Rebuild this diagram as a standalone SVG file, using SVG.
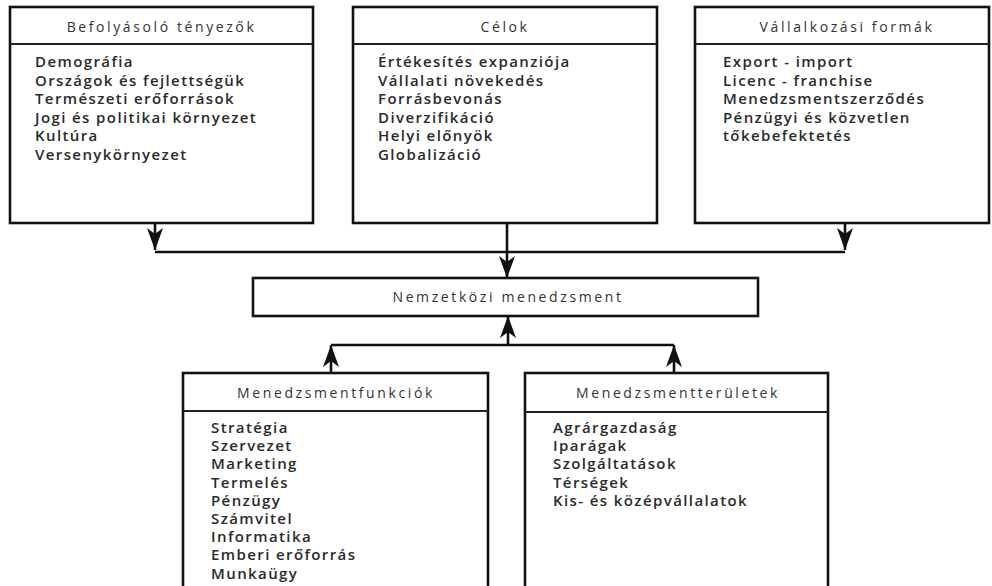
<svg xmlns="http://www.w3.org/2000/svg" width="992" height="586" viewBox="0 0 992 586">
<defs>
<style>
.box{fill:#fff;stroke:#111;stroke-width:2.6}
.div{stroke:#222;stroke-width:2.2}
.title{font-family:"Open Sans","Liberation Sans",sans-serif;font-size:14px;fill:#333;text-anchor:middle;letter-spacing:2.6px}
.body{font-family:"Open Sans","Liberation Sans",sans-serif;font-size:15px;fill:#2a2a2a;font-weight:600;letter-spacing:1.4px}
.con{fill:none;stroke:#111;stroke-width:2.6}
</style>
<marker id="ah" viewBox="0 0 22 16" refX="22" refY="8" markerWidth="22" markerHeight="16" markerUnits="userSpaceOnUse" orient="auto">
<path d="M0,0 L22,8 L0,16 L6,8 z" fill="#111"/>
</marker>
</defs>
<rect width="992" height="586" fill="#fff"/>
<g id="connectors">
<path class="con" d="M155,223 V250" marker-end="url(#ah)"/>
<path class="con" d="M845,223 V250" marker-end="url(#ah)"/>
<path class="con" d="M155,252 H845"/>
<path class="con" d="M507,223 V278" marker-end="url(#ah)"/>
<path class="con" d="M508,345 V316" marker-end="url(#ah)"/>
<path class="con" d="M331,345 H674"/>
<path class="con" d="M331,373 V345" marker-end="url(#ah)"/>
<path class="con" d="M674,373 V345" marker-end="url(#ah)"/>
</g>
<g id="befolyasolo">
<rect class="box" x="10" y="7" width="303" height="216"/>
<line class="div" x1="10" y1="44" x2="313" y2="44"/>
<text class="title" x="161.5" y="31.5">Befolyásoló tényezők</text>
<text class="body"><tspan x="35" y="67">Demográfia</tspan><tspan x="35" y="85.5">Országok és fejlettségük</tspan><tspan x="35" y="104">Természeti erőforrások</tspan><tspan x="35" y="122.5">Jogi és politikai környezet</tspan><tspan x="35" y="141">Kultúra</tspan><tspan x="35" y="159.5">Versenykörnyezet</tspan></text>
</g>
<g id="celok">
<rect class="box" x="353" y="7" width="304" height="216"/>
<line class="div" x1="353" y1="44" x2="657" y2="44"/>
<text class="title" x="505" y="31.5">Célok</text>
<text class="body"><tspan x="378" y="67">Értékesítés expanziója</tspan><tspan x="378" y="85.5">Vállalati növekedés</tspan><tspan x="378" y="104">Forrásbevonás</tspan><tspan x="378" y="122.5">Diverzifikáció</tspan><tspan x="378" y="141">Helyi előnyök</tspan><tspan x="378" y="159.5">Globalizáció</tspan></text>
</g>
<g id="vallalkozasi">
<rect class="box" x="695" y="7" width="294" height="216"/>
<line class="div" x1="695" y1="44" x2="989" y2="44"/>
<text class="title" x="847" y="31.5">Vállalkozási formák</text>
<text class="body"><tspan x="723" y="67">Export - import</tspan><tspan x="723" y="85.5">Licenc - franchise</tspan><tspan x="723" y="104">Menedzsmentszerződés</tspan><tspan x="723" y="122.5">Pénzügyi és közvetlen</tspan><tspan x="723" y="141">tőkebefektetés</tspan></text>
</g>
<g id="nemzetkozi">
<rect class="box" x="253" y="278" width="505" height="38"/>
<text class="title" x="508" y="301.5">Nemzetközi menedzsment</text>
</g>
<g id="funkciok">
<rect class="box" x="183" y="373" width="305" height="230"/>
<line class="div" x1="183" y1="411" x2="488" y2="411"/>
<text class="title" x="336" y="397.5">Menedzsmentfunkciók</text>
<text class="body"><tspan x="211" y="433">Stratégia</tspan><tspan x="211" y="451.2">Szervezet</tspan><tspan x="211" y="469.4">Marketing</tspan><tspan x="211" y="487.6">Termelés</tspan><tspan x="211" y="505.8">Pénzügy</tspan><tspan x="211" y="524">Számvitel</tspan><tspan x="211" y="542.2">Informatika</tspan><tspan x="211" y="560.4">Emberi erőforrás</tspan><tspan x="211" y="578.6">Munkaügy</tspan></text>
</g>
<g id="teruletek">
<rect class="box" x="525" y="373" width="303" height="230"/>
<line class="div" x1="525" y1="412" x2="828" y2="412"/>
<text class="title" x="678" y="397.5">Menedzsmentterületek</text>
<text class="body"><tspan x="553" y="433">Agrárgazdaság</tspan><tspan x="553" y="451.2">Iparágak</tspan><tspan x="553" y="469.4">Szolgáltatások</tspan><tspan x="553" y="487.6">Térségek</tspan><tspan x="553" y="505.8">Kis- és középvállalatok</tspan></text>
</g>
</svg>
